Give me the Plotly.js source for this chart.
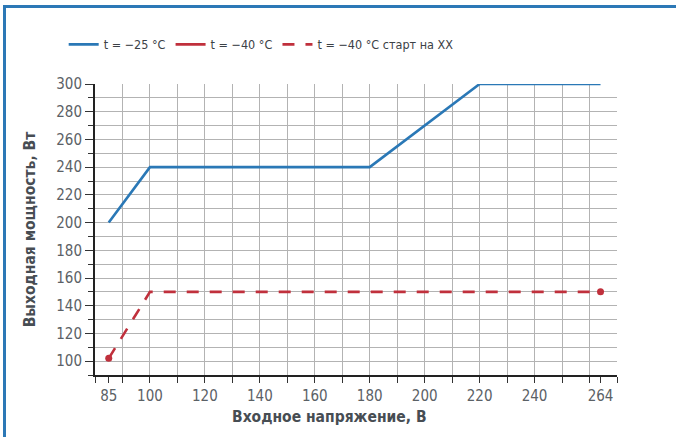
<!DOCTYPE html>
<html><head><meta charset="utf-8">
<script src="https://cdn.plot.ly/plotly-3.0.1.min.js"></script>
<style>
html,body{margin:0;padding:0;background:#fff;}
#wrap{position:relative;width:676px;height:437px;}
#chart{width:676px;height:437px;}
#frame{position:absolute;left:3px;top:5px;right:0;bottom:0;border-left:3px solid #2c78b6;border-top:3px solid #2c78b6;pointer-events:none;}
</style></head>
<body><div id="wrap"><div id="chart"></div><div id="frame"></div></div>
<script>
// ---- data ----
var xTickVals = [85, 100, 120, 140, 160, 180, 200, 220, 240, 264];
var yTickVals = [100, 120, 140, 160, 180, 200, 220, 240, 260, 280, 300];

var s25Name = 't = −25 °C';
var s25X = [85, 100, 180, 220, 264];
var s25Y = [200, 240, 240, 300, 300];

var s40Name = 't = −40 °C';
var s40X = [null];
var s40Y = [null];

var s40xxName = 't = −40 °C старт на XX';
var s40xxX = [85, 100, 264];
var s40xxY = [102, 150, 150];

var dotX = [85, 264];
var dotY = [102, 150];

var blue = '#2a78b6', red = '#c0303c';
var FONT = '"Liberation Sans Narrow", "DejaVu Sans Condensed", sans-serif';

var traces = [
  {x: s25X, y: s25Y, name: s25Name, mode: 'lines', line: {color: blue, width: 2.6}},
  {x: s40X, y: s40Y, name: s40Name, mode: 'lines', line: {color: red, width: 2.6}},
  {x: s40xxX, y: s40xxY, name: s40xxName, mode: 'lines', line: {color: red, width: 2.6, dash: '12px,11px'}},
  {x: dotX, y: dotY, xaxis: 'x2', mode: 'markers', showlegend: false, marker: {color: red, size: 7}}
];

var layout = {
  width: 676, height: 437,
  margin: {l: 95, r: 59, t: 84, b: 62},
  paper_bgcolor: '#fff', plot_bgcolor: '#fff',
  font: {family: FONT, color: '#5b6166', size: 15},
  showlegend: true,
  legend: {orientation: 'h', x: -0.06, xanchor: 'left', y: 1.135, yanchor: 'middle',
           font: {family: FONT, size: 12.5, color: '#3c4146'}, itemwidth: 30, tracegroupgap: 0},
  xaxis: {
    range: [80, 270], tickmode: 'array', tickvals: xTickVals, ticks: 'outside', ticklen: 6,
    tickcolor: '#333', tickwidth: 1, showgrid: false, zeroline: false,
    showline: true, linecolor: '#222', linewidth: 2,
    tickfont: {family: FONT, size: 15, color: '#5b6166'},
    minor: {tickmode: 'linear', tick0: 80, dtick: 10, ticks: 'outside', ticklen: 6, tickcolor: '#333', showgrid: false}
  },
  xaxis2: {
    overlaying: 'x', range: [80, 270], tickmode: 'linear', tick0: 80, dtick: 10,
    showgrid: true, gridcolor: '#b3b3b3', gridwidth: 1, showticklabels: false, ticks: '',
    showline: false, zeroline: false
  },
  yaxis: {
    range: [90, 300], tickmode: 'array', tickvals: yTickVals, ticks: 'outside', ticklen: 8,
    tickcolor: '#333', showgrid: true, gridcolor: '#b3b3b3', gridwidth: 1, zeroline: false,
    showline: true, linecolor: '#222', linewidth: 2,
    tickfont: {family: FONT, size: 15, color: '#5b6166'},
    title: {text: 'Выходная мощность, Вт', font: {family: FONT, size: 15.5, color: '#474d53', weight: 'bold'}, standoff: 17},
    minor: {tickmode: 'linear', tick0: 90, dtick: 10, ticks: 'outside', ticklen: 5, tickcolor: '#333', showgrid: true, gridcolor: '#b3b3b3', gridwidth: 1}
  },
  annotations: [{
    text: 'Входное напряжение, В', xref: 'paper', yref: 'paper', x: 0.45, y: -0.145,
    xanchor: 'center', yanchor: 'middle', showarrow: false,
    font: {family: FONT, size: 15.5, color: '#474d53', weight: 'bold'}
  }]
};

Plotly.newPlot('chart', traces, layout, {displayModeBar: false, staticPlot: true});
</script></body></html>
